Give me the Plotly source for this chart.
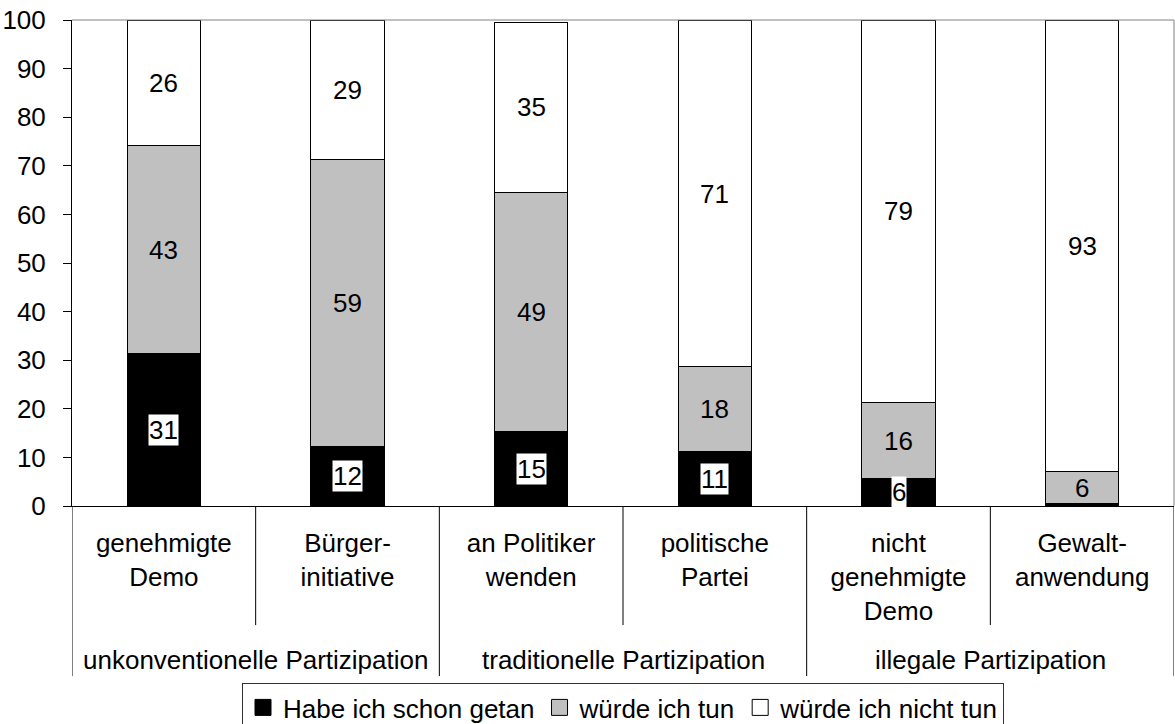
import plotly.graph_objects as go

categories = ["genehmigte<br>Demo", "Bürger-<br>initiative", "an Politiker<br>wenden",
              "politische<br>Partei", "nicht<br>genehmigte<br>Demo", "Gewalt-<br>anwendung"]
groups = ["unkonventionelle Partizipation", "traditionelle Partizipation", "illegale Partizipation"]
series_names = ["Habe ich schon getan", "würde ich tun", "würde ich nicht tun"]
done = [31.4, 12.3, 15.4, 11.2, 5.6, 0.6]
would = [42.7, 59.0, 49.2, 17.6, 15.6, 6.4]
would_not = [25.9, 28.7, 34.8, 71.0, 78.8, 93.0]
y_ticks = list(range(0, 101, 10))

FONT = "Liberation Sans, Arial, sans-serif"
FS = 26
colors = ["#000000", "#C0C0C0", "#FFFFFF"]

fig = go.Figure()
for name, vals, col in zip(series_names, [done, would, would_not], colors):
    fig.add_trace(go.Bar(
        x=categories, y=vals, name=name, showlegend=False,
        marker=dict(color=col, line=dict(color="#000000", width=1)),
        hoverinfo="skip",
    ))
# legend entries with larger square symbols
for name, col in zip(series_names, colors):
    fig.add_trace(go.Scatter(
        x=[None], y=[None], mode="markers", name=name,
        marker=dict(symbol="square", size=16, color=col, line=dict(color="#000000", width=1)),
        hoverinfo="skip",
    ))

annotations = []
for i, cat in enumerate(categories):
    if done[i] >= 2:
        annotations.append(dict(x=i, y=done[i] / 2, xref="x", yref="y", text=f"{done[i]:.0f}",
                                showarrow=False, font=dict(family=FONT, size=FS, color="black"),
                                bgcolor="white", borderpad=0))
    base = done[i]
    annotations.append(dict(x=i, y=base + would[i] / 2, xref="x", yref="y", text=f"{would[i]:.0f}",
                            showarrow=False, font=dict(family=FONT, size=FS, color="black")))
    base += would[i]
    annotations.append(dict(x=i, y=base + would_not[i] / 2, xref="x", yref="y", text=f"{would_not[i]:.0f}",
                            showarrow=False, font=dict(family=FONT, size=FS, color="black")))

for gi, g in enumerate(groups):
    annotations.append(dict(x=gi * 2 + 0.5, y=-0.317, xref="x", yref="paper", text=g,
                            showarrow=False, yanchor="middle",
                            font=dict(family=FONT, size=FS, color="black")))

shapes = []
for xb in [0.5, 2.5, 4.5]:
    shapes.append(dict(type="line", xref="x", yref="paper", x0=xb, x1=xb, y0=0, y1=-0.245,
                       line=dict(color="#000000", width=1)))
for xb in [-0.5, 1.5, 3.5, 5.5]:
    shapes.append(dict(type="line", xref="x", yref="paper", x0=xb, x1=xb, y0=0, y1=-0.35,
                       line=dict(color="#000000", width=1)))
shapes.append(dict(type="line", xref="paper", yref="paper", x0=0, x1=1, y0=1, y1=1,
                   line=dict(color="#808080", width=1)))
shapes.append(dict(type="line", xref="paper", yref="paper", x0=1, x1=1, y0=0, y1=1,
                   line=dict(color="#808080", width=1)))

fig.update_layout(
    barmode="stack",
    bargap=0.6,
    width=1175, height=724,
    margin=dict(l=72, r=1, t=20, b=218, autoexpand=False),
    paper_bgcolor="white", plot_bgcolor="white",
    font=dict(family=FONT, size=FS, color="black"),
    annotations=annotations,
    shapes=shapes,
    legend=dict(orientation="h", x=0.5, xanchor="center", y=-0.3642, yanchor="top",
                bordercolor="#333333", borderwidth=1, font=dict(family=FONT, size=FS),
                itemwidth=30, traceorder="normal", tracegroupgap=0, entrywidthmode="pixels"),
    xaxis=dict(type="category", range=[-0.5, 5.5], showline=True, linecolor="#000000",
               linewidth=1, ticks="", showgrid=False, tickfont=dict(family=FONT, size=FS),
               ticklabelstandoff=14, fixedrange=True, automargin=False),
    yaxis=dict(range=[0, 100], tickvals=y_ticks, showline=True, linecolor="#000000", linewidth=1,
               ticks="outside", ticklen=8, tickcolor="#000000", showgrid=False, zeroline=False,
               tickfont=dict(family=FONT, size=FS), ticklabelstandoff=12, fixedrange=True,
               automargin=False),
)

fig.write_html("out.html", config={"displayModeBar": False},
               post_script="document.body.style.margin='0';document.body.style.overflow='hidden';")
